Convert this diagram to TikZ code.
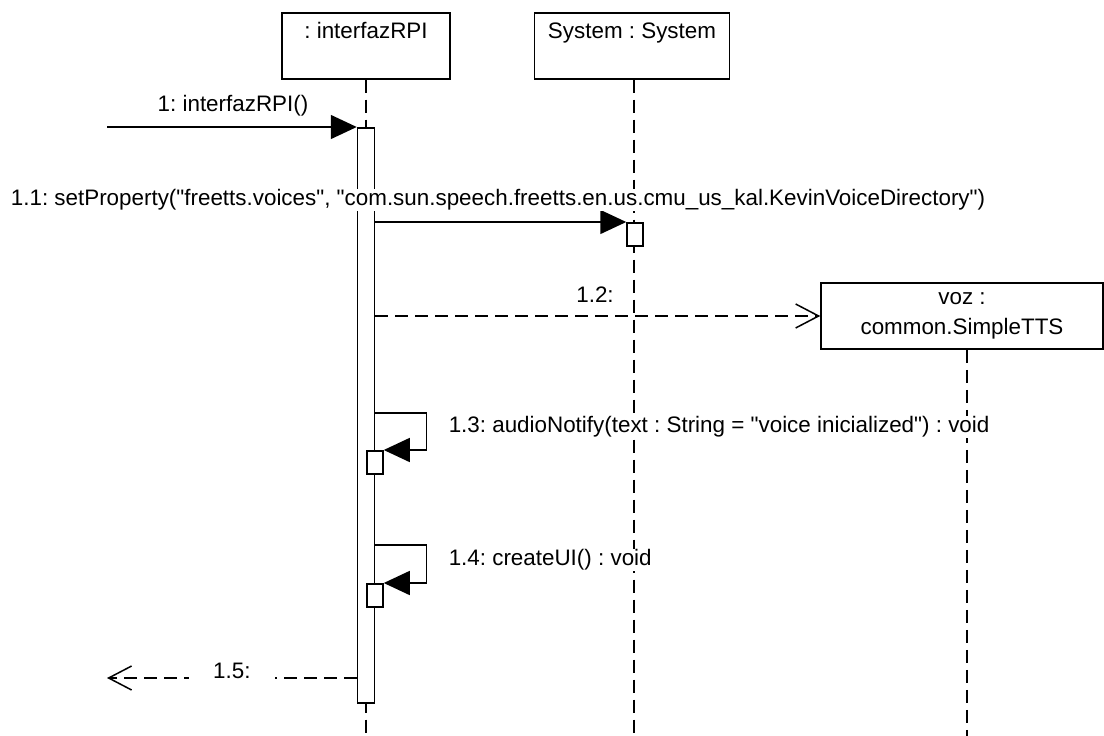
\documentclass[tikz,border=0pt]{standalone}
\usepackage{fontspec}
\setmainfont{Liberation Sans}[Ligatures=TeXOff]
\usetikzlibrary{positioning,arrows.meta}
\newcommand{\dq}{\symbol{34}}

\begin{document}
\frenchspacing
\begin{tikzpicture}[x=1pt,y=-1pt,line width=1.5pt,
  font=\fontsize{22.4}{30}\selectfont,
  obj/.style={draw,fill=white,anchor=north,inner ysep=6pt,text height=20pt,text depth=34pt},
  act/.style={draw,fill=white,anchor=north,minimum width=17pt,inner sep=0pt},
  life/.style={dash pattern=on 13pt off 7pt},
  call/.style={-{Triangle[length=26pt,width=24pt]}},
  ret/.style={dash pattern=on 13pt off 7pt,-{Straight Barb[length=23pt,width=24pt]}},
  msg/.style={fill=white,inner sep=1pt}]
 \useasboundingbox (0,0) rectangle (1104,736);

 \node (A) [obj,minimum width=168pt] at (366,12) {: interfazRPI};
 \node (B) [obj,minimum width=195pt] at (632,12) {System : System};
 \node (C) [draw,fill=white,align=center,minimum width=282pt,minimum height=66pt] at (962,316) {voz :\\common.SimpleTTS};

 \coordinate (endA) at (366,736);
 \coordinate (endB) at (634,736);
 \coordinate (endC) at (967,736);
 \coordinate (start1) at (107,127);
 \coordinate (end15) at (107,678);

 \draw[life] (A.south) -- (endA);
 \draw[life] (B.south -| endB) -- (endB);
 \draw[life] (C.south -| endC) -- (endC);

 \node (actA) [act,minimum height=575pt] at (366,127) {};
 \node (actB) [act,minimum width=16pt,minimum height=23pt] at (635,222) {};
 \node (act13) [act,minimum width=16pt,minimum height=23pt] at (375,450) {};
 \node (act14) [act,minimum width=16pt,minimum height=23pt] at (375,583) {};

 \draw[call] (start1) -- (actA.north west);
 \node (m1) [msg] at (233,106) {1: interfazRPI()};

 \draw[call] (actA.east |- actB.north) -- (actB.north west);
 \node (m11) [msg] at (498,200) {1.1: setProperty(\dq freetts.voices\dq, \dq com.sun.speech.freetts.en.us.cmu\_us\_kal.KevinVoiceDirectory\dq)};

 \draw[ret] (actA.east |- C.west) -- (C.west);
 \node (m12) [msg] at (595,295) {1.2:};

 \draw[call] ([yshift=37pt]act13.north -| actA.east) -- ++(51pt,0) |- (act13.north east);
 \node (m13) [msg,anchor=west] at (447,427) {1.3: audioNotify(text : String = \dq voice inicialized\dq) : void};

 \draw[call] ([yshift=38pt]act14.north -| actA.east) -- ++(51pt,0) |- (act14.north east);
 \node (m14) [msg,anchor=west] at (447,560) {1.4: createUI() : void};

 \draw[ret] (actA.west |- end15) -- (end15)
   node (m15) [midway,fill=white,minimum width=86pt,inner ysep=4pt,yshift=7pt] {1.5:};
\end{tikzpicture}
\end{document}
